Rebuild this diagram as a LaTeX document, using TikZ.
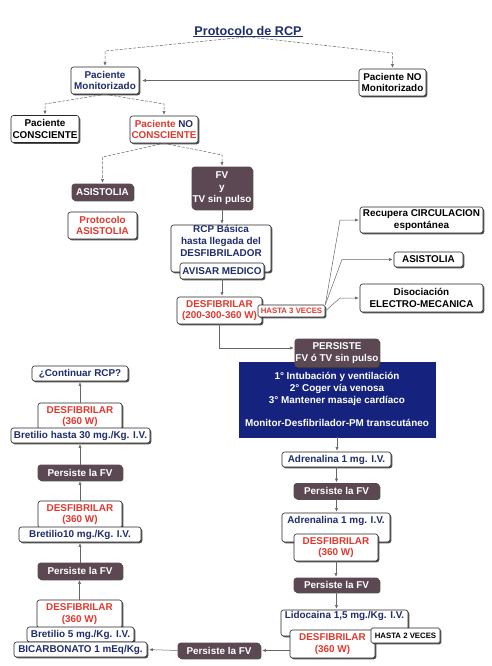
\documentclass[tikz,border=0pt]{standalone}
\usepackage{fontspec}
\setmainfont{Liberation Sans}
\usetikzlibrary{arrows.meta,%
                shadows}
\definecolor{navy}{HTML}{1F2C6E}
\definecolor{rojo}{HTML}{E2382C}
\definecolor{malva}{HTML}{5C4852}
\definecolor{azul}{HTML}{15237E}

\begin{document}
\begin{tikzpicture}[x=1pt,y=-1pt]
  \tikzstyle{BoxStyle}=[draw=black!85,line width=0.6pt,rounded corners=2.5pt,fill=white,
    align=center,inner sep=0.5pt,font=\fontsize{9.9}{11.7}\selectfont\bfseries,
    drop shadow={shadow xshift=1.3pt,shadow yshift=-1.3pt,fill=black!80,opacity=0.85}]
  \tikzstyle{DarkStyle}=[BoxStyle,draw=malva,fill=malva,text=white]
  \tikzstyle{BlueStyle}=[BoxStyle,rounded corners=0pt,draw=azul,fill=azul,text=white]
  \tikzstyle{SmallStyle}=[BoxStyle,rounded corners=1.5pt,font=\fontsize{7.8}{9}\selectfont\bfseries]
  \tikzstyle{EdgeStyle}=[draw=black!60,line width=0.5pt,-{Latex[length=3.5pt,width=3pt]},shorten >=1pt]
  \tikzstyle{DashStyle}=[EdgeStyle,dash pattern=on 3pt off 1.5pt]
  \useasboundingbox[fill=white] (0,0) rectangle (492,666);
  % cabecera
  \node[font=\fontsize{12.6}{14}\selectfont\bfseries,text=navy,inner sep=1pt] (Titulo) at (248,31) {Protocolo de RCP};
  \draw[navy,line width=0.7pt] (Titulo.south west) -- (Titulo.south east);
  \node[BoxStyle,minimum width=68pt,minimum height=27pt,text=navy] (Mon) at (105,80.5) {Paciente\\Monitorizado};
  \node[BoxStyle,minimum width=67pt,minimum height=27pt] (NoMon) at (392.5,82.5) {Paciente NO\\Monitorizado};
  \node[BoxStyle,minimum width=68pt,minimum height=27pt] (Cons) at (45,129) {Paciente\\CONSCIENTE};
  \node[BoxStyle,minimum width=68pt,minimum height=27pt,text=navy] (NoCons) at (164,129.5)
    {\textcolor{rojo}{Paciente} NO\\\textcolor{rojo}{CONSCIENTE}};
  \node[DarkStyle,minimum width=61pt,minimum height=16pt] (Asis) at (102.5,192) {ASISTOLIA};
  \node[BoxStyle,minimum width=69pt,minimum height=27pt,text=rojo] (ProAsis) at (102.5,225.5) {Protocolo\\ASISTOLIA};
  \node[DarkStyle,minimum width=60pt,minimum height=42pt] (FV) at (222,188) {FV\\y\\TV sin pulso};
  \node[BoxStyle,minimum width=100pt,minimum height=47pt,text=navy] (RCP) at (221,248.5) {RCP Básica\\hasta llegada del\\DESFIBRILADOR\\ \strut};
  \node[BoxStyle,minimum width=84pt,minimum height=16pt,text=navy] (Avisar) at (222,271) {AVISAR MEDICO};
  \node[BoxStyle,minimum width=85pt,minimum height=27pt,text=rojo] (DesfA) at (219.5,310.5) {DESFIBRILAR\\(200-300-360 W)};
  \node[SmallStyle,minimum width=67pt,minimum height=12pt,text=rojo] (HastaA) at (291.5,311) {HASTA 3 VECES};
  \node[BoxStyle,minimum width=123pt,minimum height=26pt] (Recup) at (421.5,220) {Recupera CIRCULACION\\espontánea};
  \node[BoxStyle,minimum width=69pt,minimum height=15pt] (AsisB) at (428.5,259.5) {ASISTOLIA};
  \node[BoxStyle,minimum width=123pt,minimum height=28pt] (Diso) at (421.5,298) {Disociación\\ELECTRO-MECANICA};
  % columna derecha
  \node[BlueStyle,minimum width=196pt,minimum height=75pt] (Azul) at (337,399.5)
    {1° Intubación y ventilación\\2° Coger vía venosa\\3° Mantener masaje cardíaco\\[11.7pt]Monitor-Desfibrilador-PM transcutáneo};
  \node[DarkStyle,minimum width=84pt,minimum height=28pt] (PersA) at (337,353) {PERSISTE\\FV ó TV sin pulso};
  \node[BoxStyle,minimum width=109pt,minimum height=15pt,text=navy] (AdrA) at (336.5,459.5) {Adrenalina 1 mg. I.V.};
  \node[DarkStyle,minimum width=85pt,minimum height=15pt] (FVa) at (336.5,491) {Persiste la FV};
  \node[BoxStyle,minimum width=108pt,minimum height=29pt,text=navy] (AdrB) at (336,527.5) {Adrenalina 1 mg. I.V.\\ \strut};
  \node[BoxStyle,minimum width=84pt,minimum height=27pt,text=rojo] (DesfB) at (336,547.5) {DESFIBRILAR\\(360 W)};
  \node[DarkStyle,minimum width=85pt,minimum height=14pt] (FVb) at (336.5,585) {Persiste la FV};
  \node[BoxStyle,minimum width=127pt,minimum height=26pt,text=navy] (Lido) at (344.5,623) {Lidocaina 1,5 mg./Kg. I.V.\\ \strut};
  \node[BoxStyle,minimum width=85pt,minimum height=28pt,text=rojo] (DesfC) at (332.5,644) {DESFIBRILAR\\(360 W)};
  \node[SmallStyle,minimum width=69pt,minimum height=15pt] (HastaB) at (405.5,635.5) {HASTA 2 VECES};
  % columna izquierda
  \node[DarkStyle,minimum width=82pt,minimum height=15pt] (FVc) at (219,650.5) {Persiste la FV};
  \node[BoxStyle,minimum width=85pt,minimum height=28pt,text=rojo] (DesfD) at (79.5,614) {DESFIBRILAR\\(360 W)};
  \node[BoxStyle,minimum width=107pt,minimum height=15pt,text=navy] (BretA) at (80.5,634.5) {Bretilio 5 mg./Kg. I.V.};
  \node[BoxStyle,minimum width=133pt,minimum height=15pt,text=navy] (Bicarb) at (80.5,649.5) {BICARBONATO 1 mEq/Kg.};
  \node[DarkStyle,minimum width=84pt,minimum height=16pt] (FVd) at (80,571) {Persiste la FV};
  \node[BoxStyle,minimum width=84pt,minimum height=27pt,text=rojo] (DesfE) at (80,514.5) {DESFIBRILAR\\(360 W)};
  \node[BoxStyle,minimum width=122pt,minimum height=15pt,text=navy] (BretB) at (80,534.5) {Bretilio10 mg./Kg. I.V.};
  \node[DarkStyle,minimum width=84pt,minimum height=15pt] (FVe) at (80,472.5) {Persiste la FV};
  \node[BoxStyle,minimum width=84pt,minimum height=27pt,text=rojo] (DesfF) at (80,416.5) {DESFIBRILAR\\(360 W)};
  \node[BoxStyle,minimum width=139pt,minimum height=15pt,text=navy] (BretC) at (80.5,435.5) {Bretilio hasta 30 mg./Kg. I.V.};
  \node[BoxStyle,minimum width=96pt,minimum height=15pt,text=navy] (Cont) at (80,373.5) {¿Continuar RCP?};
  % conexiones
  \draw[DashStyle] (Titulo.south) -- (Mon.north |- 0,51) -- (Mon.north);
  \draw[DashStyle] (Titulo.south) -- (NoMon.north |- 0,53) -- (NoMon.north);
  \draw[EdgeStyle,shorten >=3pt] (NoMon.west |- Mon.east) -- (Mon.east);
  \draw[DashStyle] (Mon.south) -- (Cons.north |- 0,104) -- (Cons.north);
  \draw[DashStyle] (Mon.south) -- (NoCons.north |- 0,104) -- (NoCons.north);
  \draw[DashStyle] (NoCons.south) -- (Asis.north |- 0,157) -- (Asis.north);
  \draw[DashStyle] (NoCons.south) -- (FV.north |- 0,155) -- (FV.north);
  \draw[EdgeStyle] (FV.south) -- (FV.south |- RCP.north);
  \draw[EdgeStyle] (Avisar.south) -- (Avisar.south |- DesfA.north);
  \draw[EdgeStyle] (HastaA.north east) -- (Recup.west -| 340,0) -- (Recup.west);
  \draw[EdgeStyle] (HastaA.north east) -- (AsisB.west -| 342,0) -- (AsisB.west);
  \draw[EdgeStyle] (HastaA.east) -- (Diso.west -| 340,0) -- (Diso.west);
  \draw[EdgeStyle] (DesfA.south) -- (DesfA.south |- 0,348) -- (PersA.west |- 0,348);
  \draw[EdgeStyle] (Azul.south) -- (Azul.south |- AdrA.north);
  \draw[EdgeStyle] (AdrA.south) -- (AdrA.south |- FVa.north);
  \draw[EdgeStyle] (FVa.south) -- (FVa.south |- AdrB.north);
  \draw[EdgeStyle] (DesfB.south) -- (DesfB.south |- FVb.north);
  \draw[EdgeStyle] (FVb.south) -- (FVb.south |- Lido.north);
  \draw[EdgeStyle,shorten >=2pt] (DesfC.west |- FVc.east) -- (FVc.east);
  \draw[EdgeStyle,shorten >=2pt] (FVc.west) -- (Bicarb.east);
  \draw[EdgeStyle] (DesfD.north) -- (DesfD.north |- FVd.south);
  \draw[EdgeStyle] (FVd.north) -- (FVd.north |- BretB.south);
  \draw[EdgeStyle] (DesfE.north) -- (DesfE.north |- FVe.south);
  \draw[EdgeStyle] (FVe.north) -- (FVe.north |- BretC.south);
  \draw[EdgeStyle] (DesfF.north) -- (DesfF.north |- Cont.south);
\end{tikzpicture}
\end{document}
